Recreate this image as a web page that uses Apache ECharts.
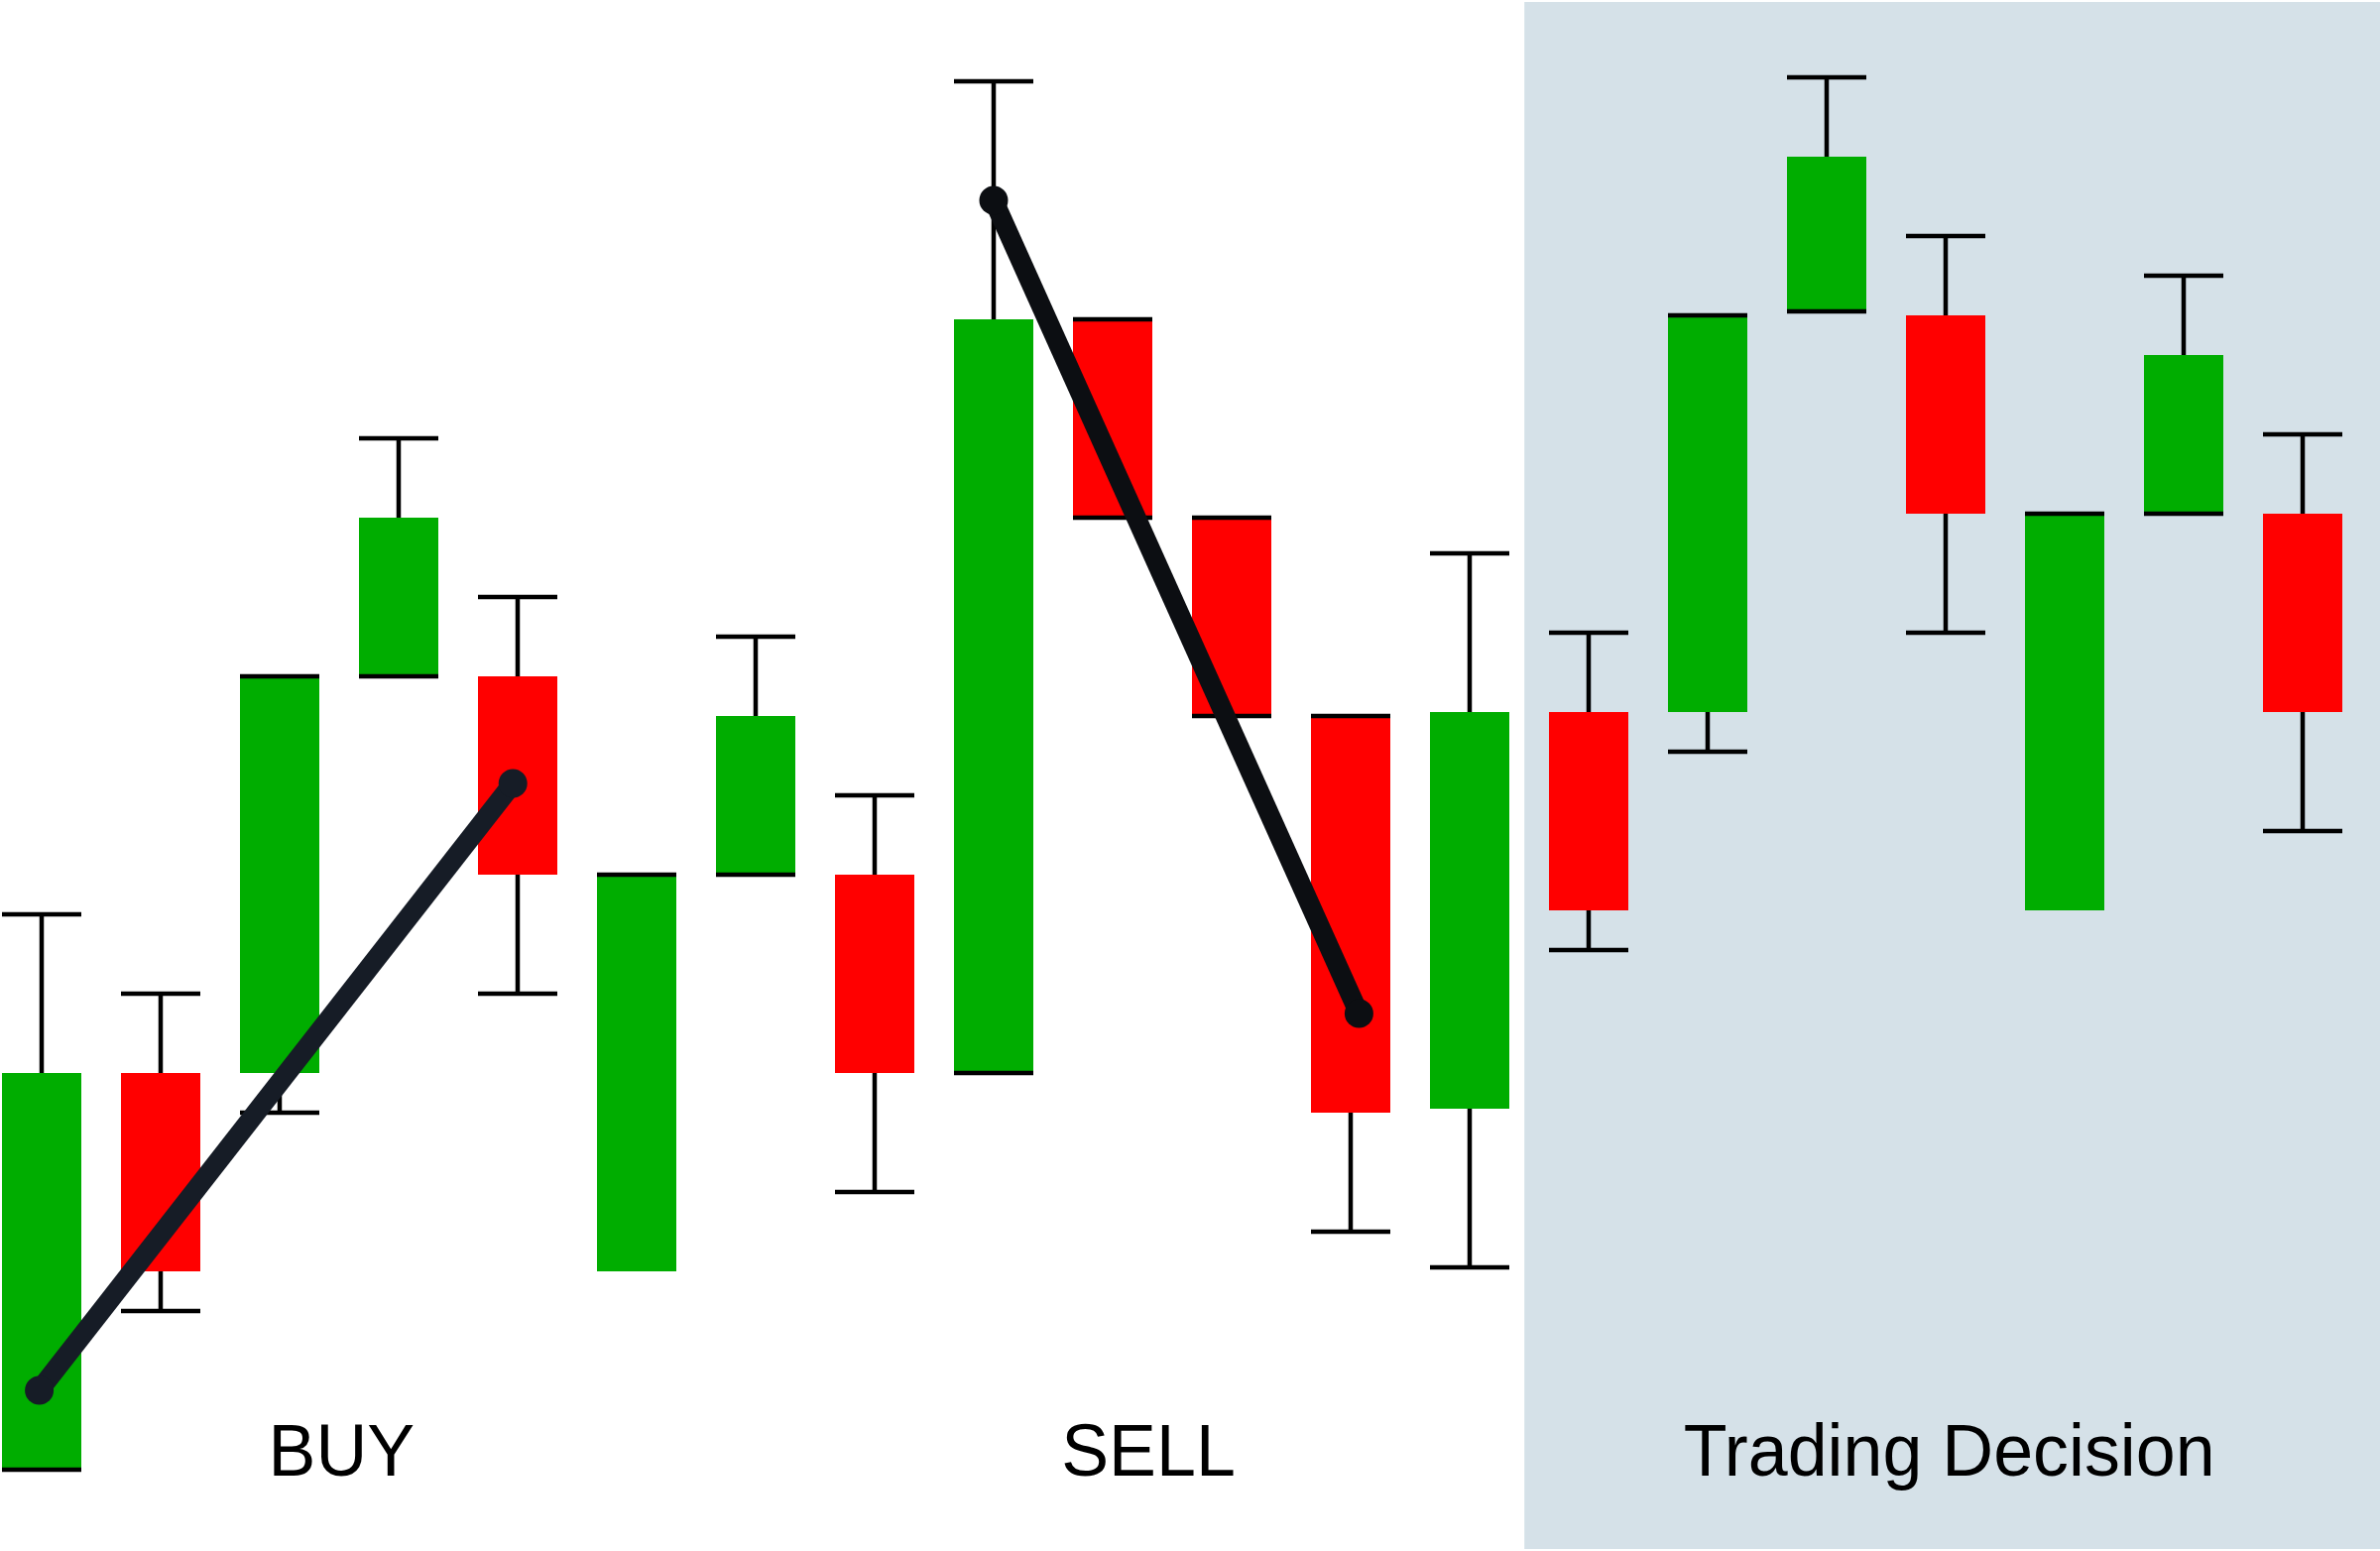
<!DOCTYPE html>
<html>
<head>
<meta charset="utf-8">
<script src="https://cdn.jsdelivr.net/npm/echarts@6/dist/echarts.min.js"></script>
<style>
html,body{margin:0;padding:0;background:#ffffff;}
#chart{width:2400px;height:1564px;}
</style>
</head>
<body>
<div id="chart"></div>
<script>
// Candle positions (category index), OHLC in price units
var positions = [0,1,2,3,4,5,6,7,8,9,10,11,12,13,14,15,16,17,18,19];
var opens  = [2, 12, 12, 22, 22, 7, 17, 17, 12, 31, 26, 21, 11.1, 21.1, 21.1, 31.2, 31.1, 16.1, 26.1, 26.1];
var closes = [12, 7, 22, 26, 17, 17, 21, 12, 31, 26, 21, 11, 21.1, 16.1, 31.1, 35.1, 26.1, 26.1, 30.1, 21.1];
var highs  = [16, 14, 22, 28, 24, 17, 23, 19, 37, 31, 26, 21, 25.1, 23.1, 31.1, 37.1, 33.1, 26.1, 32.1, 28.1];
var lows   = [2, 6, 11, 22, 14, null, 17, 9, 12, 26, 21, 8, 7.1, 15.1, 20.1, 31.2, 23.1, null, 26.1, 18.1];

// Trend lines (x in category units, y in price units)
var buyLineX = [-0.02, 3.96];
var buyLineY = [4.0, 19.3];
var sellLineX = [8.0, 11.07];
var sellLineY = [34.0, 13.5];

// Shaded decision region (x range in category units, y range in price units)
var shadeX = [12.46, 19.65];
var shadeY = [0, 39];

// Text labels
var labelTexts = ['BUY', 'SELL', 'Trading Decision'];
var labelX = [2.52, 9.30, 16.03];
var labelY = [2.36, 2.36, 2.36];

var UP = '#00ad00', DOWN = '#ff0000', INK = '#000000';

var candleData = positions.map(function (p, i) {
  return [p, opens[i], closes[i], highs[i]];
});

function renderCandle(params, api) {
  var i = params.dataIndex;
  var x = api.value(0), o = api.value(1), c = api.value(2), h = api.value(3);
  var l = lows[i];
  var w = api.size([1, 0])[0] * 2 / 3;
  var pO = api.coord([x, o]), pC = api.coord([x, c]), pH = api.coord([x, h]);
  var cx = pO[0];
  var top = Math.min(pO[1], pC[1]), bot = Math.max(pO[1], pC[1]);
  var children = [];
  var lowY = (l === null) ? bot : api.coord([x, l])[1];
  // wick behind body
  children.push({type: 'line', shape: {x1: cx, y1: pH[1], x2: cx, y2: lowY},
    style: {stroke: INK, lineWidth: 4.5}});
  // body
  children.push({type: 'rect', shape: {x: cx - w / 2, y: top, width: w, height: bot - top},
    style: {fill: c >= o ? UP : DOWN}});
  // caps
  children.push({type: 'line', shape: {x1: cx - w / 2, y1: pH[1], x2: cx + w / 2, y2: pH[1]},
    style: {stroke: INK, lineWidth: 4.5}});
  if (l !== null) {
    children.push({type: 'line', shape: {x1: cx - w / 2, y1: lowY, x2: cx + w / 2, y2: lowY},
      style: {stroke: INK, lineWidth: 4.5}});
  }
  return {type: 'group', children: children};
}

var chart = echarts.init(document.getElementById('chart'), null, {renderer: 'canvas'});
chart.setOption({
  animation: false,
  backgroundColor: '#ffffff',
  grid: {left: 0, right: 0, top: 0, bottom: 0, containLabel: false},
  xAxis: {type: 'value', min: -0.35, max: 19.65, show: false},
  yAxis: {type: 'value', min: -0.05, max: 39.05, show: false},
  series: [
    {
      type: 'custom', z: 1, silent: true,
      data: [[shadeX[0], shadeY[0], shadeX[1], shadeY[1]]],
      renderItem: function (params, api) {
        var a = api.coord([api.value(0), api.value(1)]);
        var b = api.coord([api.value(2), api.value(3)]);
        return {type: 'rect', shape: {x: a[0], y: b[1], width: b[0] - a[0], height: a[1] - b[1]},
          style: {fill: '#d5e1e8'}};
      }
    },
    {
      type: 'custom', z: 2, silent: true,
      data: candleData,
      renderItem: renderCandle
    },
    {
      type: 'line', z: 3, silent: true,
      data: buyLineX.map(function (x, i) { return [x, buyLineY[i]]; }),
      symbol: 'circle', symbolSize: 29,
      lineStyle: {color: '#161c26', width: 20},
      itemStyle: {color: '#161c26'}
    },
    {
      type: 'line', z: 3, silent: true,
      data: sellLineX.map(function (x, i) { return [x, sellLineY[i]]; }),
      symbol: 'circle', symbolSize: 29,
      lineStyle: {color: '#0c0e12', width: 20},
      itemStyle: {color: '#0c0e12'}
    },
    {
      type: 'custom', z: 4, silent: true,
      data: labelX.map(function (x, i) { return [x, labelY[i]]; }),
      renderItem: function (params, api) {
        var p = api.coord([api.value(0), api.value(1)]);
        return {type: 'text', x: p[0], y: p[1], scaleX: 0.97,
          style: {text: labelTexts[params.dataIndex], x: 0, y: 0,
            font: 'normal 74px "Liberation Sans", Arial, sans-serif',
            fill: '#000000', align: 'center', verticalAlign: 'middle'}};
      }
    }
  ]
});
</script>
</body>
</html>
